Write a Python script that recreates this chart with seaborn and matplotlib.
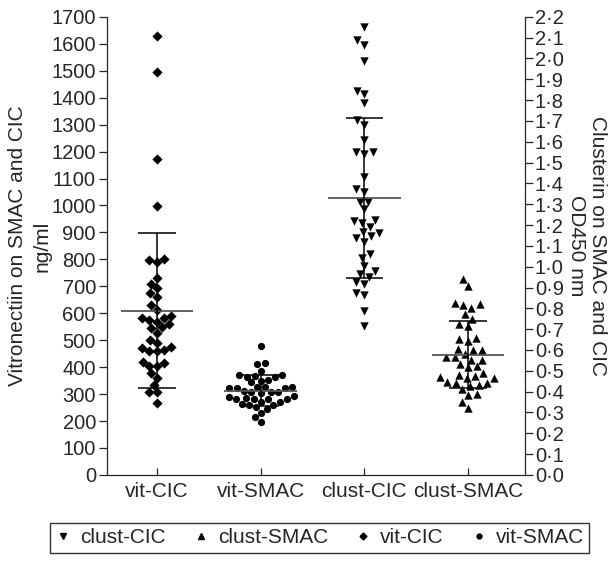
import matplotlib.pyplot as plt
import seaborn as sns
import numpy as np
from matplotlib.lines import Line2D
from matplotlib.ticker import FuncFormatter

# Group names (x-axis order)
groups = ['vit-CIC', 'vit-SMAC', 'clust-CIC', 'clust-SMAC']

# Vitronectin values, ng/ml (left axis)
vit_cic = [1630, 1497, 1172, 998, 802, 792, 796, 730, 710, 692, 674, 661, 630, 612,
           590, 582, 575, 583, 569, 560, 548, 545, 528, 501, 489, 470, 474, 461, 461,
           464, 417, 418, 405, 405, 377, 361, 334, 309, 309, 268]
vit_smac = [480, 415, 411, 387, 371, 367, 363, 365, 369, 353, 349, 343, 326, 322, 322,
            322, 326, 326, 307, 303, 306, 306, 313, 291, 285, 281, 283, 281, 283, 288,
            272, 272, 264, 260, 260, 244, 251, 229, 214, 198]

# Clusterin values, OD450 nm (right axis)
clust_cic = [2.153, 2.089, 2.065, 1.990, 1.828, 1.846, 1.785, 1.705, 1.681, 1.609,
             1.553, 1.542, 1.553, 1.433, 1.361, 1.372, 1.310, 1.313, 1.276, 1.220,
             1.212, 1.225, 1.193, 1.161, 1.137, 1.149, 1.169, 1.121, 1.044, 1.061,
             1.005, 0.965, 0.977, 0.952, 0.917, 0.928, 0.865, 0.876, 0.789, 0.716]
clust_smac = [0.940, 0.908, 0.820, 0.804, 0.816, 0.824, 0.775, 0.750, 0.723, 0.715,
              0.659, 0.643, 0.651, 0.606, 0.598, 0.598, 0.583, 0.567, 0.554, 0.554,
              0.566, 0.533, 0.522, 0.517, 0.490, 0.474, 0.479, 0.466, 0.463, 0.469,
              0.434, 0.445, 0.426, 0.442, 0.442, 0.389, 0.414, 0.386, 0.350, 0.321]

left_ticks = list(range(0, 1701, 100))
right_ticks = [i / 10 for i in range(23)]

sns.set_style('ticks')
plt.rcParams['font.family'] = ['Liberation Sans', 'DejaVu Sans']
plt.rcParams['axes.linewidth'] = 0.9

fig = plt.figure(figsize=(6.12, 5.62), dpi=100)
ax = fig.add_axes([0.175, 0.155, 0.683, 0.815])
ax2 = ax.twinx()
ax.set_ylim(0, 1700)
ax2.set_ylim(0, 2.2)
xlim = (-0.48, 3.55)
ax.set_xlim(*xlim)

# Scatter columns
series = [(ax, vit_cic, 'vit-CIC', 'D', 5.2),
          (ax, vit_smac, 'vit-SMAC', 'o', 5.2),
          (ax2, clust_cic, 'clust-CIC', 'v', 6),
          (ax2, clust_smac, 'clust-SMAC', '^', 6)]
for axis, vals, name, mk, sz in series:
    sns.swarmplot(x=[name] * len(vals), y=vals, order=groups, ax=axis,
                  marker=mk, color='black', size=sz, linewidth=0)

# Mean and SD bars
for axis, vals, name, mk, sz in series:
    i = groups.index(name)
    m = np.mean(vals)
    s = np.std(vals, ddof=1)
    axis.hlines(m, i - 0.35, i + 0.35, color='#555555', lw=1.3, zorder=5)
    axis.vlines(i, m - s, m + s, color='black', lw=1.1, zorder=5)
    axis.hlines([m - s, m + s], i - 0.18, i + 0.18, color='black', lw=1.1, zorder=5)

ax.set_xlim(*xlim)
ax.set_ylim(0, 1700)
ax2.set_ylim(0, 2.2)

ax.set_xticks(range(len(groups)))
ax.set_xticklabels(groups, fontsize=15)
ax.tick_params(axis='x', direction='in', length=5, width=0.9, pad=5)
ax.set_yticks(left_ticks)
ax.tick_params(axis='y', direction='out', length=6, width=0.9, labelsize=14.5, pad=2)
ax2.set_yticks(right_ticks)
ax2.yaxis.set_major_formatter(FuncFormatter(lambda v, p: f'{v:.1f}'.replace('.', '\u00b7')))
ax2.tick_params(axis='y', direction='out', length=6, width=0.9, labelsize=14.5, pad=1)

ax.set_xlabel('')
ax.set_ylabel('Vitronectiin on SMAC and CIC\nng/ml', fontsize=15, labelpad=0, linespacing=1.35)
ax2.set_ylabel('Clusterin on SMAC and CIC\nOD450 nm', fontsize=15, rotation=270,
               labelpad=31, linespacing=1.1)

ax.spines['top'].set_visible(False)
ax.spines['right'].set_visible(False)
for side in ['top', 'left', 'bottom']:
    ax2.spines[side].set_visible(False)
ax2.spines['right'].set_linewidth(0.9)

handles = [Line2D([], [], marker='v', ls='', color='black', markersize=5, label='clust-CIC'),
           Line2D([], [], marker='^', ls='', color='black', markersize=5, label='clust-SMAC'),
           Line2D([], [], marker='D', ls='', color='black', markersize=3.5, label='vit-CIC'),
           Line2D([], [], marker='o', ls='', color='black', markersize=3.5, label='vit-SMAC')]
leg = fig.legend(handles=handles, ncol=4, loc='center', bbox_to_anchor=(0.522, 0.043),
                 frameon=True, fancybox=False, edgecolor='black', fontsize=15,
                 handletextpad=0.4, columnspacing=1.3, borderpad=0.25, handlelength=0.8)
leg.get_frame().set_linewidth(1)

plt.savefig('out.png', dpi=100)
